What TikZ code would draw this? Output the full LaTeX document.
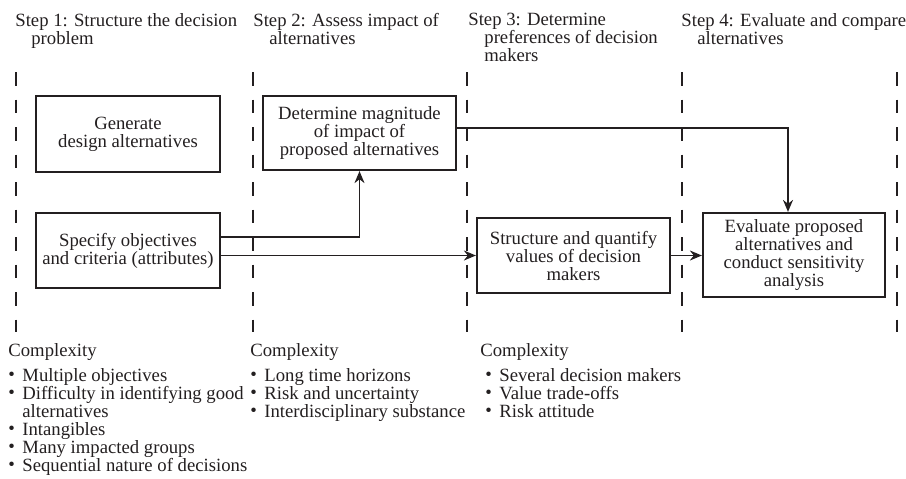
\documentclass[tikz,border=0pt]{standalone}
\usepackage{fontspec}
\setmainfont{Liberation Serif}
\usepackage{tikz}
\usetikzlibrary{arrows.meta,positioning,calc}
\definecolor{dfink}{RGB}{35,31,32}
\newcommand{\itembul}{\makebox[7pt][l]{\raisebox{0.1ex}{\textbullet}}}
\tikzstyle{arrow} = [line width=0.8pt,-{Stealth[length=6pt,width=5pt]},color=dfink]
\tikzstyle{stepbox} = [rectangle, draw=dfink, line width=1.1pt, align=center, inner sep=2pt]
\tikzstyle{steptitle} = [anchor=north west, align=left, inner sep=0pt]
\tikzstyle{cplxlist} = [align=left, inner sep=0pt]
\tikzstyle{divider} = [line width=1.2pt, dash pattern=on 6.75pt off 7pt, color=dfink]

\begin{document}
\begin{tikzpicture}[x=0.5pt,y=-0.5pt,font=\fontsize{9.35}{9}\selectfont,text=dfink]
\useasboundingbox (0,0) rectangle (906,478);

% Step headings
\node[steptitle] (head1) at (15,13) {Step 1: Structure the decision\\\hspace*{8pt}problem};
\node[steptitle] (head2) at (253,13) {Step 2: Assess impact of\\\hspace*{8pt}alternatives};
\node[steptitle] (head3) at (468,13) {Step 3: Determine\\\hspace*{8pt}preferences of decision\\\hspace*{8pt}makers};
\node[steptitle] (head4) at (681,13) {Step 4: Evaluate and compare\\\hspace*{8pt}alternatives};

% Column dividers
\foreach \x in {16,253,467,682,897}
  \draw[divider] (\x,72) -- (\x,332);

% Boxes
\node[stepbox, minimum width=92pt, minimum height=38pt] (gen) at (128,134) {Generate\\design alternatives};
\node[stepbox, minimum width=92pt, minimum height=37.5pt] (spec) at (128,250.5) {Specify objectives\\and criteria (attributes)};
\node[stepbox, minimum width=96.5pt, minimum height=37pt] (magn) at (359.5,133) {Determine magnitude\\of impact of\\proposed alternatives};
\node[stepbox, minimum width=96.5pt, minimum height=37.5pt] (quant) at (573.5,255.5) {Structure and quantify\\values of decision\\makers};
\node[stepbox, minimum width=91pt, minimum height=42pt] (eval) at (794,255) {Evaluate proposed\\alternatives and\\conduct sensitivity\\analysis};

% Arrows
\draw[arrow] ($(spec.east)+(0,-13.5)$) -| (magn.south);
\draw[arrow] (spec.east |- quant.west) -- (quant.west);
\draw[arrow] (quant.east) -- (quant.east -| eval.west);
\draw[arrow] ($(magn.east)+(0,-5)$) -| ([xshift=-3pt]eval.north);

% Complexity lists
\node[cplxlist, anchor=north west] (cplx1) at (8,343) {Complexity};
\node[cplxlist, below=3.5pt of cplx1.south west, anchor=north west] (list1) {\itembul Multiple objectives\\\itembul Difficulty in identifying good\\\hspace*{7pt}alternatives\\\itembul Intangibles\\\itembul Many impacted groups\\\itembul Sequential nature of decisions};

\node[cplxlist, anchor=north west] (cplx2) at (250,343) {Complexity};
\node[cplxlist, below=3.5pt of cplx2.south west, anchor=north west] (list2) {\itembul Long time horizons\\\itembul Risk and uncertainty\\\itembul Interdisciplinary substance};

\node[cplxlist, anchor=north west] (cplx3) at (480,343) {Complexity};
\node[cplxlist, below=3.5pt of cplx3.south west, anchor=north west, xshift=2.5pt] (list3) {\itembul Several decision makers\\\itembul Value trade-offs\\\itembul Risk attitude};
\end{tikzpicture}
\end{document}
